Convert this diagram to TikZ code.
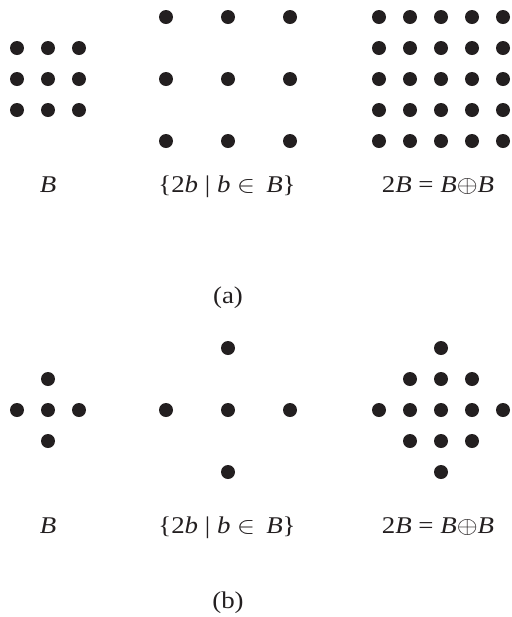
\documentclass[tikz,border=0pt]{standalone}
\usepackage{graphicx}
\usepackage{fontspec}
\setmainfont{Liberation Serif}
\usetikzlibrary{positioning}
\definecolor{ink}{HTML}{231F20}
\newcommand{\wide}[1]{\scalebox{1.12}[1]{#1}}
\tikzset{
  dot/.style={circle, fill=ink, draw=none, inner sep=0pt, minimum size=7pt},
  lbl/.style={font=\fontsize{12}{14}\selectfont, text=ink, inner sep=0pt, anchor=base},
}
\begin{document}
\begin{tikzpicture}[x=0.5pt, y=-0.5pt]
\useasboundingbox (0,0) rectangle (511,617);
\foreach \i in {-1,0,1}
  \foreach \j in {-1,0,1} {
    \node[dot] (aB\i\j) at (48+31*\i, 79+31*\j) {};
    \node[dot] (aD\i\j) at (228+62*\i, 79+62*\j) {};
  }
\foreach \i in {-2,...,2}
  \foreach \j in {-2,...,2}
    \node[dot] (aS\i\j) at (441+31*\i, 79+31*\j) {};
\node[lbl] (aBl) at (48,192) {\wide{\textit{B}}};
\node[lbl] (aDl) at (227,192) {\wide{\{2\textit{b} | \textit{b} $\in$\, \textit{B}\}}};
\node[lbl] (aSl) at (438,192) {\wide{2\textit{B} = \textit{B}$\oplus$\textit{B}}};
\node[lbl] (acap) at (228,303) {\wide{(a)}};
\foreach \i/\j in {0/0,1/0,-1/0,0/1,0/-1} {
  \node[dot] (bB\i\j) at (48+31*\i, 410+31*\j) {};
  \node[dot] (bD\i\j) at (228+62*\i, 410+62*\j) {};
}
\foreach \i in {-2,...,2}
  \foreach \j in {-2,...,2} {
    \pgfmathtruncatemacro\dd{abs(\i)+abs(\j)}
    \ifnum\dd<3 \node[dot] (bS\i\j) at (441+31*\i, 410+31*\j) {}; \fi
  }
\node[lbl] (bBl) at (48,533) {\wide{\textit{B}}};
\node[lbl] (bDl) at (227,533) {\wide{\{2\textit{b} | \textit{b} $\in$\, \textit{B}\}}};
\node[lbl] (bSl) at (438,533) {\wide{2\textit{B} = \textit{B}$\oplus$\textit{B}}};
\node[lbl] (bcap) at (228,608) {\wide{(b)}};
\end{tikzpicture}
\end{document}
